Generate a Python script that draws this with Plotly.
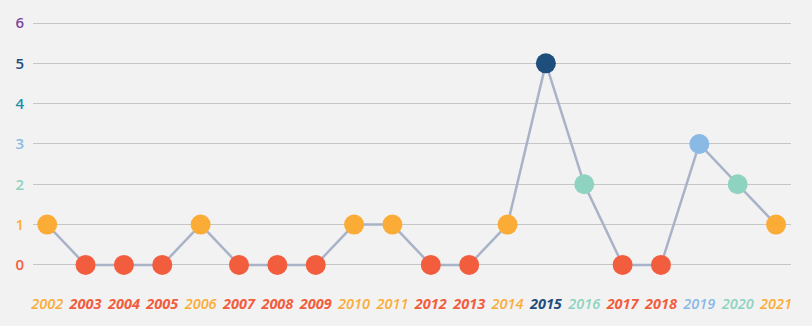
import plotly.graph_objects as go

years = [str(y) for y in range(2002, 2022)]
values = [1, 0, 0, 0, 1, 0, 0, 0, 1, 1, 0, 0, 1, 5, 2, 0, 0, 3, 2, 1]
y_ticks = [0, 1, 2, 3, 4, 5, 6]

value_colors = {0: "#f25d3e", 1: "#fbac36", 2: "#8ed3bf", 3: "#8ab9e6",
                4: "#2091ad", 5: "#1e4e7c", 6: "#7b48a2"}
bold_values = {0, 5}

x_idx = list(range(len(years)))
marker_colors = [value_colors[v] for v in values]

def xlabel(y, v):
    w = 700 if v in bold_values else 600
    return f'<span style="color:{value_colors[v]};font-weight:{w}"><i>{y}</i></span>'

def ylabel(v):
    return f'<span style="color:{value_colors[v]};font-weight:600">{v}</span>'

fig = go.Figure()
fig.add_trace(go.Scatter(
    x=x_idx, y=values, mode="lines+markers",
    line=dict(color="#a9b3c8", width=2.5),
    marker=dict(size=20, color=marker_colors, line=dict(width=0)),
    hoverinfo="skip", cliponaxis=False,
))

fig.update_layout(
    width=812, height=326,
    margin=dict(l=33, r=21, t=15, b=49),
    paper_bgcolor="#f2f2f2", plot_bgcolor="#f2f2f2",
    showlegend=False,
    font=dict(family="Open Sans", size=14),
    xaxis=dict(
        range=[-0.37, 19.39], tickmode="array", tickvals=x_idx,
        ticktext=[xlabel(y, v) for y, v in zip(years, values)],
        showgrid=False, zeroline=False, showline=False,
        ticks="outside", ticklen=14, tickcolor="rgba(0,0,0,0)",
        tickfont=dict(size=14.5),
    ),
    yaxis=dict(
        range=[-0.3, 6.1], tickmode="array", tickvals=y_ticks,
        ticktext=[ylabel(v) for v in y_ticks],
        showgrid=True, gridcolor="#c6c6c6", gridwidth=1.3,
        zeroline=False, showline=False,
        ticks="outside", ticklen=5, tickcolor="rgba(0,0,0,0)",
        tickfont=dict(size=15),
    ),
)

fig.write_html("out.html")
